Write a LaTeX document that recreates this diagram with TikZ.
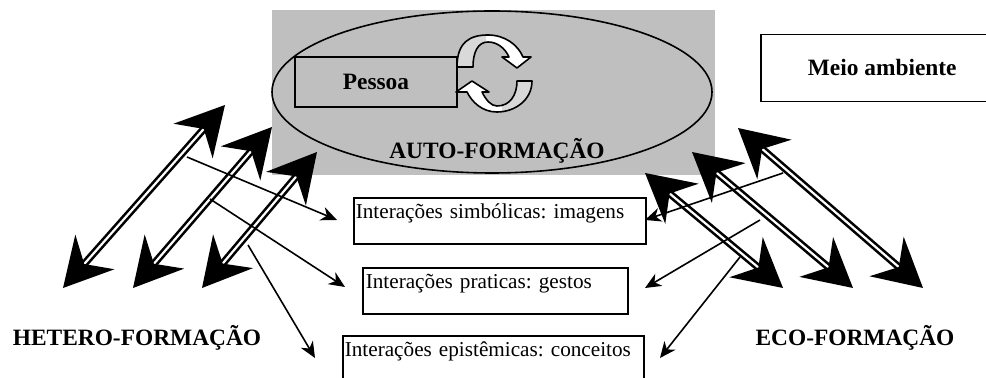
\documentclass[tikz,border=0pt]{standalone}
\usepackage{fontspec}
\setmainfont{Liberation Serif}
\usetikzlibrary{arrows.meta}
\frenchspacing

\begin{document}
\begin{tikzpicture}[x=0.5pt,y=-0.5pt]
  \tikzstyle{formlabel}=[font=\fontsize{11.7}{14}\selectfont\bfseries]
  \tikzstyle{interbox}=[draw,line width=0.8pt,anchor=north west,inner xsep=1pt,inner ysep=2pt,
    text height=8.5pt,text depth=10.5pt,align=left,font=\fontsize{10.6}{12}\selectfont]
  \tikzstyle{bigarrow}=[double,line width=1.3pt,double distance=1.1pt,
    arrows={Stealth[length=24pt,width=26pt,inset=8pt]-Stealth[length=24pt,width=26pt,inset=8pt]}]
  \tikzstyle{thinarrow}=[line width=0.8pt,-{Stealth[length=8pt,width=7pt,inset=2.5pt]}]
  \useasboundingbox (0,0) rectangle (986,378);

  % auto-formacao
  \fill[gray!50] (272,10) rectangle (715,175);
  \draw[line width=0.8pt] (492,92) ellipse [x radius=220, y radius=81];
  \node (pessoa) at (376,82) [draw,line width=0.8pt,minimum width=81pt,minimum height=25pt,formlabel] {Pessoa};
  \node (auto) at (497,151) [formlabel] {AUTO-FORMAÇÃO};

  % ciclo
  \def\toparrow{(457,67) .. controls (457,42) and (470,35) .. (488,35) .. controls (505,35) and (518,45) .. (523,57)
    -- (531,57) -- (517,68) -- (502,57) -- (509,57) .. controls (505,48) and (497,42) .. (488,42)
    .. controls (478,42) and (473,52) .. (473,67) -- cycle}
  \def\botarrow{(532,81) .. controls (532,100) and (515,112) .. (497,112) .. controls (482,112) and (472,102) .. (467,92)
    -- (456,92) -- (472,81) -- (489,92) -- (482,92) .. controls (486,100) and (491,106) .. (497,106)
    .. controls (510,106) and (517,95) .. (517,81) -- cycle}
  \fill[white] \toparrow;
  \fill[white] \botarrow;
  \begin{scope}
    \clip (440,20) rectangle (486,75);
    \fill[gray!30] \toparrow;
  \end{scope}
  \begin{scope}
    \clip (502,75) rectangle (540,120);
    \fill[gray!30] \botarrow;
  \end{scope}
  \draw[line width=0.8pt,line join=round] \toparrow;
  \draw[line width=0.8pt,line join=round] \botarrow;

  \node (meio) at (760,68) [draw,line width=0.8pt,anchor=west,inner xsep=23.5pt,minimum height=33.5pt,formlabel] {Meio ambiente};

  % interacoes
  \node (simb) at (353,197) [interbox,text width=144pt] {Interações simbólicas: imagens};
  \node (prat) at (362,267) [interbox,text width=129.5pt,inner xsep=1.5pt] {Interações praticas: gestos};
  \node (epist) at (342,335) [interbox,text width=148.5pt,text depth=25pt] {Interações epistêmicas: conceitos};

  \node (hetero) at (137,338) [formlabel] {HETERO-FORMAÇÃO};
  \node (eco) at (855,338) [formlabel] {ECO-FORMAÇÃO};

  % setas duplas
  \coordinate (hA1) at (63,288);  \coordinate (hB1) at (225,105);
  \coordinate (hA2) at (133,288); \coordinate (hB2) at (272,127);
  \coordinate (hA3) at (202,288); \coordinate (hB3) at (317,152);
  \coordinate (eA1) at (645,173); \coordinate (eB1) at (783,288);
  \coordinate (eA2) at (692,152); \coordinate (eB2) at (853,288);
  \coordinate (eA3) at (738,128); \coordinate (eB3) at (923,288);

  \draw[bigarrow] (hA1) -- (hB1);
  \draw[bigarrow] (hA2) -- (hB2);
  \draw[bigarrow] (hA3) -- (hB3);
  \draw[bigarrow] (eA1) -- (eB1);
  \draw[bigarrow] (eA2) -- (eB2);
  \draw[bigarrow] (eA3) -- (eB3);

  % setas finas
  \coordinate (hs1) at (187,157); \coordinate (ht1) at (337,220);
  \coordinate (hs2) at (210,199); \coordinate (ht2) at (345,287);
  \coordinate (hs3) at (248,245); \coordinate (ht3) at (315,358);
  \coordinate (es1) at (783,173); \coordinate (et1) at (645,220);
  \coordinate (es2) at (760,220); \coordinate (et2) at (645,288);
  \coordinate (es3) at (740,257); \coordinate (et3) at (660,358);

  \draw[thinarrow] (hs1) -- (ht1);
  \draw[thinarrow] (hs2) -- (ht2);
  \draw[thinarrow] (hs3) -- (ht3);
  \draw[thinarrow] (es1) -- (et1);
  \draw[thinarrow] (es2) -- (et2);
  \draw[thinarrow] (es3) -- (et3);
\end{tikzpicture}
\end{document}
